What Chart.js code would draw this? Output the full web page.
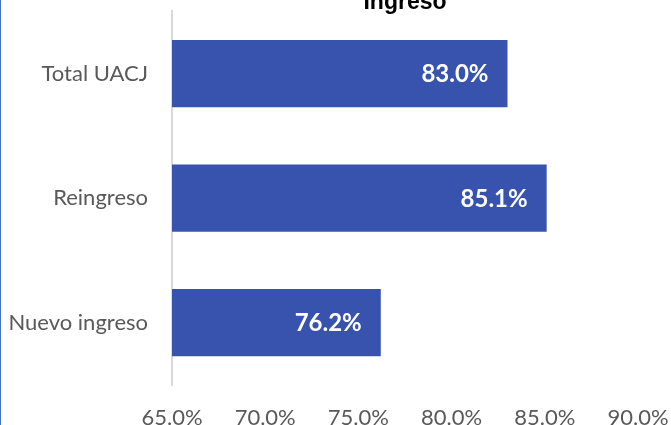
<!DOCTYPE html>
<html><head><meta charset="utf-8">
<script src="https://cdn.jsdelivr.net/npm/chart.js@4/dist/chart.umd.min.js"></script>
<style>
html,body{margin:0;padding:0;background:#fff;overflow:hidden;}
#wrap{position:relative;width:671px;height:425px;overflow:hidden;background:#fff;}
#frame{position:absolute;left:0;top:0;width:1px;height:425px;background:#4472c4;z-index:2;}
#c{position:absolute;left:0;top:-10px;}
</style></head><body>
<div id="wrap"><canvas id="c" width="671" height="445"></canvas><div id="frame"></div></div>
<script>
const categories = ['Total UACJ', 'Reingreso', 'Nuevo ingreso'];
const values = [83.0, 85.1, 76.2];
const xMin = 65, xMax = 90, xStep = 5;
const titleText = 'Ingreso';

const barLabels = {
  id: 'barLabels',
  afterDatasetsDraw(chart) {
    const ctx = chart.ctx;
    const meta = chart.getDatasetMeta(0);
    ctx.save();
    ctx.font = 'bold 24px Lato';
    ctx.fillStyle = '#ffffff';
    ctx.textAlign = 'right';
    ctx.textBaseline = 'middle';
    meta.data.forEach((bar, i) => {
      ctx.fillText(values[i].toFixed(1) + '%', bar.x - 19, bar.y + 1);
    });
    ctx.restore();
  }
};

new Chart(document.getElementById('c'), {
  type: 'bar',
  data: {
    labels: categories,
    datasets: [{
      data: values,
      backgroundColor: '#3853ae',
      borderWidth: 0,
      barPercentage: 0.54,
      categoryPercentage: 1
    }]
  },
  options: {
    indexAxis: 'y',
    animation: false,
    responsive: false,
    layout: { padding: { left: 0, right: 33, top: 0, bottom: 0 } },
    plugins: {
      legend: { display: false },
      tooltip: { enabled: false },
      title: {
        display: true,
        text: titleText,
        fullSize: false,
        color: '#000000',
        font: { family: 'Liberation Sans', size: 23, weight: 'bold', lineHeight: 0.8 },
        padding: { top: 3, bottom: 0 }
      }
    },
    scales: {
      x: {
        min: xMin, max: xMax,
        ticks: {
          stepSize: xStep,
          callback: v => Number(v).toFixed(1) + '%',
          color: '#595959',
          font: { family: 'Lato', size: 22 },
          padding: 19.5,
          maxRotation: 0
        },
        grid: { display: false, drawTicks: false },
        border: { display: false },
        afterFit: s => { s.height = 50; s.paddingLeft = 0; s.paddingRight = 0; }
      },
      y: {
        ticks: { color: '#595959', font: { family: 'Lato', size: 22 }, padding: 24 },
        grid: { display: false, drawTicks: false },
        border: { display: true, color: '#d9d9d9', width: 2 },
        afterFit: s => { s.width = 172; s.paddingTop = 0; s.paddingBottom = 0; }
      }
    }
  },
  plugins: [barLabels]
});
</script>
</body></html>
